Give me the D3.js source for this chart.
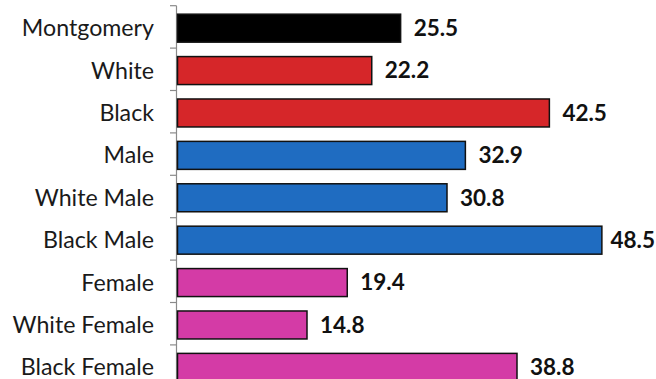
<!DOCTYPE html>
<html><head><meta charset="utf-8">
<script src="https://cdn.jsdelivr.net/npm/d3@7"></script>
<style>
html,body{margin:0;padding:0;background:#fff;}
svg{display:block;}
</style></head>
<body>
<svg id="chart" width="656" height="379"></svg>
<script>
const categories = ["Montgomery","White","Black","Male","White Male","Black Male","Female","White Female","Black Female"];
const values = [25.5, 22.2, 42.5, 32.9, 30.8, 48.5, 19.4, 14.8, 38.8];
const groups = ["total","race","race","male","male","male","female","female","female"];
const colorDomain = ["total","race","male","female"];
const colorRange = ["#000000","#d62629","#1f6cc1","#d43ba6"];

const W = 656;
const svg = d3.select("#chart");
const x = d3.scaleLinear().domain([0, 50]).range([177.5, 615]);
const y = d3.scaleBand().domain(categories).range([5.7, 387.3]);
const color = d3.scaleOrdinal().domain(colorDomain).range(colorRange);
const data = categories.map((c,i)=>({c, v: values[i], g: groups[i]}));

// axis line + ticks between categories
svg.append("line").attr("x1",176.5).attr("x2",176.5).attr("y1",y.range()[0]).attr("y2",379)
  .attr("stroke","#8a8a8a").attr("stroke-width",1.2);
svg.selectAll(".tk").data(categories).enter().append("line")
  .attr("x1",170).attr("x2",176.5)
  .attr("y1",d=>y(d)).attr("y2",d=>y(d))
  .attr("stroke","#8a8a8a").attr("stroke-width",1.2);

const bh = y.bandwidth()*0.66;
const off = y.bandwidth()*0.2;
svg.selectAll(".bar").data(data).enter().append("rect")
  .attr("x", x(0)).attr("y", d=>y(d.c)+off)
  .attr("width", d=>x(d.v)-x(0)).attr("height", bh)
  .attr("fill", d=>color(d.g)).attr("stroke","#111").attr("stroke-width",1.5);

svg.selectAll(".cat").data(data).enter().append("text")
  .attr("x",154).attr("y",d=>y(d.c)+off+bh/2)
  .attr("dy","0.35em").attr("text-anchor","end")
  .attr("font-family","Lato, 'Open Sans', sans-serif").attr("font-size",23.2)
  .attr("fill","#1a1a1a").text(d=>d.c);

svg.selectAll(".val").data(data).enter().append("text")
  .attr("y",d=>y(d.c)+off+bh/2)
  .attr("dy","0.35em")
  .attr("font-family","Lato, 'Open Sans', sans-serif").attr("font-size",22.5).attr("font-weight","bold")
  .attr("fill","#111").text(d=>d3.format(".1f")(d.v))
  .attr("x", function(d){
    const w = this.getComputedTextLength();
    return Math.min(x(d.v)+13, W - w - 1);
  });
</script>
</body></html>
